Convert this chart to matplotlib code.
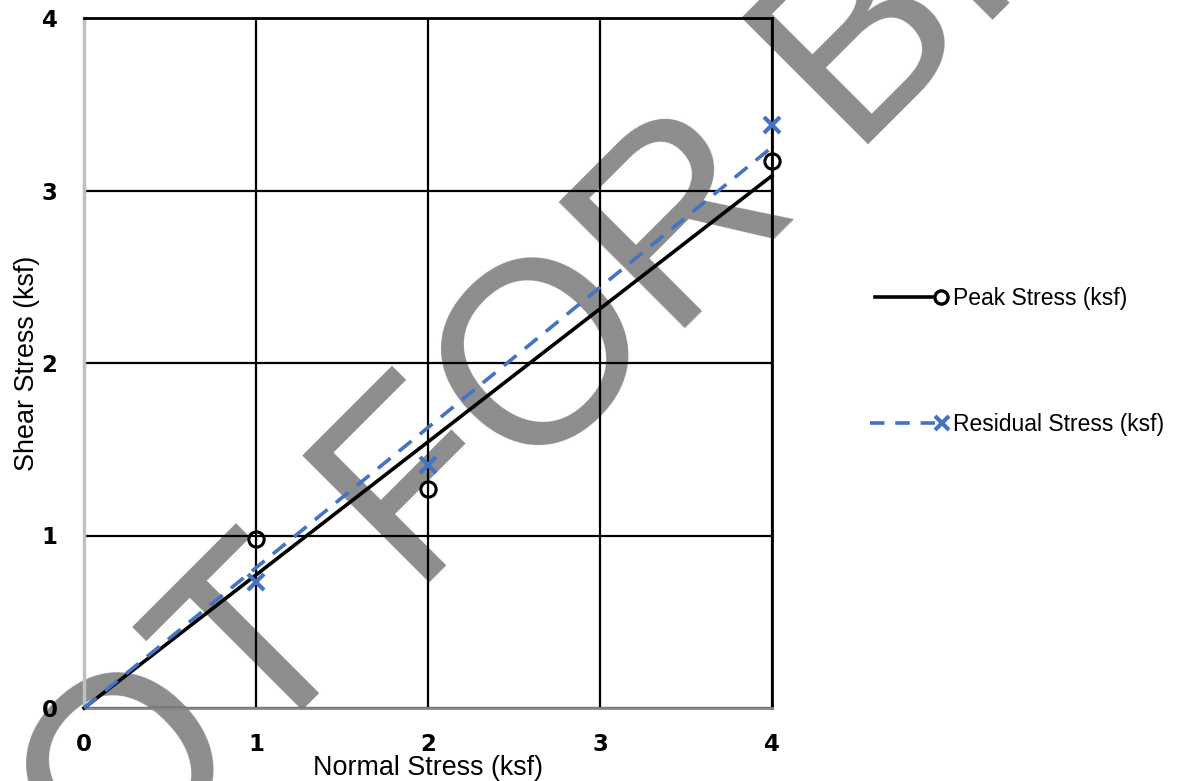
import numpy as np
import matplotlib
matplotlib.use("Agg")
import matplotlib.pyplot as plt
from matplotlib.lines import Line2D

# data
normal_stress = np.array([1, 2, 4])
peak_stress = np.array([0.98, 1.27, 3.17])
residual_stress = np.array([0.73, 1.41, 3.38])
ticks = [0, 1, 2, 3, 4]
series_names = ["Peak Stress (ksf)", "Residual Stress (ksf)"]
watermark = "NOT FOR BIDDING"

blue = "#4472C4"
font = "Liberation Sans"

fig = plt.figure(figsize=(11.79, 7.81), dpi=100)
fig.patch.set_facecolor("white")
ax = fig.add_axes([84 / 1179, 1 - 708 / 781, 688 / 1179, 690 / 781])
ax.set_facecolor("none")

# watermark behind everything
fig.text(-0.017, -0.3227, watermark, rotation=45, rotation_mode="anchor",
         ha="left", va="baseline", fontsize=187, family=font,
         color="#8d8d8d", zorder=-5)

# linear trendlines forced through origin
xs = np.array([0, 4])
k_peak = np.sum(normal_stress * peak_stress) / np.sum(normal_stress ** 2)
k_res = np.sum(normal_stress * residual_stress) / np.sum(normal_stress ** 2)
ax.plot(xs, k_peak * xs, color="black", lw=2.6, zorder=3, clip_on=False)
ax.plot(xs, k_res * xs, color=blue, lw=2.6, ls=(0, (4.5, 3)), zorder=3, clip_on=False)

ax.plot(normal_stress, peak_stress, ls="none", marker="o", ms=11, mfc="none",
        mec="black", mew=2.2, zorder=4, clip_on=False)
ax.plot(normal_stress, residual_stress, ls="none", marker="x", ms=11,
        mec=blue, mew=3, zorder=4, clip_on=False)

ax.set_xlim(0, 4)
ax.set_ylim(0, 4)
ax.set_xticks(ticks)
ax.set_yticks(ticks)
ax.grid(True, color="black", lw=1.6)
ax.set_axisbelow(True)
ax.tick_params(length=0, labelsize=16.5)
ax.tick_params(axis="x", pad=18)
ax.tick_params(axis="y", pad=19)
for lab in ax.get_xticklabels() + ax.get_yticklabels():
    lab.set_fontweight("bold")

for side in ["top", "right"]:
    ax.spines[side].set_color("black")
    ax.spines[side].set_linewidth(2)
ax.spines["left"].set_color("#bfbfbf")
ax.spines["left"].set_linewidth(2.5)
ax.spines["bottom"].set_color("#868686")
ax.spines["bottom"].set_linewidth(2)

ax.set_xlabel("Normal Stress (ksf)", fontsize=19.4, family=font, labelpad=-1)
ax.set_ylabel("Shear Stress (ksf)", fontsize=19.4, family=font, labelpad=1)

# legend drawn by hand: line sample with marker at its right end
W, H = 1179, 781
fig.add_artist(Line2D([875 / W, 932 / W], [1 - 297 / H] * 2, color="black", lw=2.6))
fig.add_artist(Line2D([941 / W], [1 - 297 / H], ls="none", marker="o", ms=9.5,
                      mfc="none", mec="black", mew=2.4))
fig.text(953 / W, 1 - 298 / H, series_names[0], fontsize=16.5, family=font,
         va="center", ha="left")
fig.add_artist(Line2D([870 / W, 935 / W], [1 - 423 / H] * 2, color=blue, lw=2.6,
                      ls=(0, (4, 3))))
fig.add_artist(Line2D([942 / W], [1 - 423 / H], ls="none", marker="x", ms=10,
                      mec=blue, mew=3))
fig.text(953 / W, 1 - 424 / H, series_names[1], fontsize=16.5, family=font,
         va="center", ha="left")

fig.savefig("out.png", dpi=100)
